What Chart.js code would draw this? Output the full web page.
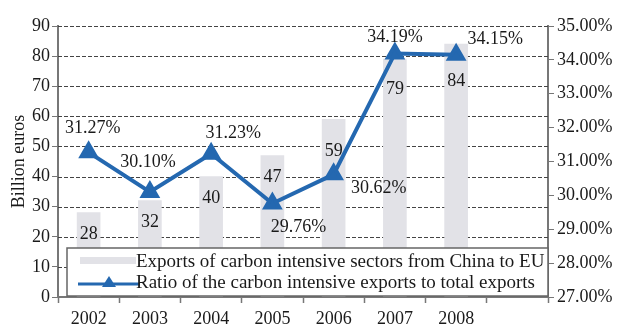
<!DOCTYPE html>
<html>
<head>
<meta charset="utf-8">
<script src="https://cdn.jsdelivr.net/npm/chart.js@4.4.0/dist/chart.umd.min.js"></script>
<style>
  html, body { margin: 0; padding: 0; background: #fff; }
  #wrap { width: 621px; height: 325px; }
</style>
</head>
<body>
<div id="wrap"><canvas id="myChart" width="621" height="325"></canvas></div>
<script>
// data
const years = ['2002', '2003', '2004', '2005', '2006', '2007', '2008', ''];
const exportsEU = [28, 32, 40, 47, 59, 79, 84, null]; // billion euros
const ratio = [31.27, 30.10, 31.23, 29.76, 30.62, 34.19, 34.15, null]; // percent
const leftTicks = [0, 10, 20, 30, 40, 50, 60, 70, 80, 90];
const rightTicks = [27, 28, 29, 30, 31, 32, 33, 34, 35];

const serif = '"Liberation Serif", "DejaVu Serif", serif';
const blue = '#2468b0';
const barGrey = '#e2e2e7';
const axisGrey = '#777';
const txt = '#1a1a1a';

// where each percentage label sits relative to its point (dx, dy)
const pctOffsets = [[4, -24], [-2, -30], [22, -20], [26, 24], [45, 14], [0, -16], [39, -16]];

const labelsPlugin = {
    id: 'labelsPlugin',
    beforeDatasetsDraw(chart) {
        // dashed horizontal grid, one line per left tick
        const ctx = chart.ctx;
        const a = chart.chartArea;
        const ys = chart.scales.y;
        ctx.save();
        ctx.strokeStyle = '#444';
        ctx.lineWidth = 1;
        ctx.setLineDash([4, 2]);
        leftTicks.forEach(v => {
            if (v === 0) return;
            const y = Math.round(ys.getPixelForValue(v)) + 0.5;
            ctx.beginPath();
            ctx.moveTo(a.left, y);
            ctx.lineTo(a.right, y);
            ctx.stroke();
        });
        ctx.restore();
    },
    afterDatasetsDraw(chart) {
        const ctx = chart.ctx;
        ctx.save();
        ctx.font = '18px ' + serif;
        ctx.fillStyle = txt;
        ctx.textAlign = 'center';
        ctx.textBaseline = 'middle';
        // values on the bars
        const bars = chart.getDatasetMeta(0).data;
        bars.forEach((b, i) => {
            if (exportsEU[i] == null) return;
            let off = 22;
            if (i === 4) off = 32;
            if (i === 5) off = 30;
            if (i === 6) off = 37;
            ctx.fillText(String(exportsEU[i]), b.x, b.y + off);
        });
        // percentages near the line
        const pts = chart.getDatasetMeta(1).data;
        pts.forEach((p, i) => {
            if (ratio[i] == null) return;
            const o = pctOffsets[i];
            ctx.fillText(ratio[i].toFixed(2) + '%', p.x + o[0], p.y + o[1]);
        });
        ctx.restore();
    },
    afterDraw(chart) {
        // legend box sitting inside the plot
        const ctx = chart.ctx;
        const a = chart.chartArea;
        const x0 = a.left + 9, y0 = 248, x1 = a.right, y1 = a.bottom - 1;
        ctx.save();
        ctx.fillStyle = '#fff';
        ctx.fillRect(x0, y0, x1 - x0, y1 - y0);
        ctx.strokeStyle = '#666';
        ctx.lineWidth = 1.5;
        ctx.strokeRect(x0, y0, x1 - x0, y1 - y0);

        ctx.fillStyle = barGrey;
        ctx.fillRect(x0 + 13, 257, 56, 7);

        ctx.strokeStyle = blue;
        ctx.lineWidth = 3;
        ctx.beginPath();
        ctx.moveTo(x0 + 11, 284);
        ctx.lineTo(x0 + 73, 284);
        ctx.stroke();
        ctx.fillStyle = blue;
        ctx.beginPath();
        ctx.moveTo(x0 + 42, 276);
        ctx.lineTo(x0 + 49, 287);
        ctx.lineTo(x0 + 35, 287);
        ctx.closePath();
        ctx.fill();

        ctx.fillStyle = txt;
        ctx.font = '19px ' + serif;
        ctx.textAlign = 'left';
        ctx.textBaseline = 'middle';
        ctx.fillText(chart.data.datasets[0].label, x0 + 69, 262);
        ctx.fillText(chart.data.datasets[1].label, x0 + 69, 283);
        ctx.restore();
    }
};

const data = {
    labels: years,
    datasets: [{
            type: 'bar',
            label: 'Exports of carbon intensive sectors from China to EU',
            data: exportsEU,
            backgroundColor: barGrey,
            barThickness: 23,
            yAxisID: 'y',
            order: 2
        },
        {
            type: 'line',
            label: 'Ratio of the carbon intensive exports to total exports',
            data: ratio,
            borderColor: blue,
            backgroundColor: blue,
            borderWidth: 4,
            pointStyle: 'triangle',
            pointRadius: 8,
            pointHoverRadius: 8,
            tension: 0,
            yAxisID: 'y1',
            order: 1
        }
    ]
};

const config = {
    data: data,
    options: {
        responsive: false,
        animation: false,
        events: [],
        layout: { padding: { top: 26, left: 0, right: 0, bottom: 0 } },
        plugins: {
            legend: { display: false },
            tooltip: { enabled: false }
        },
        scales: {
            x: {
                offset: true,
                afterFit: s => { s.height = 28; },
                grid: {
                    offset: true,
                    drawOnChartArea: false,
                    drawTicks: true,
                    tickLength: 6,
                    tickColor: axisGrey,
                    tickWidth: 1.5
                },
                border: { color: axisGrey, width: 2 },
                ticks: {
                    color: txt,
                    font: { family: serif, size: 18 },
                    padding: 5,
                    maxRotation: 0
                }
            },
            y: {
                position: 'left',
                min: 0,
                max: 90,
                afterFit: s => { s.width = 58; },
                afterBuildTicks: s => { s.ticks = leftTicks.map(v => ({ value: v })); },
                grid: {
                    drawOnChartArea: false,
                    tickLength: 6,
                    tickColor: axisGrey,
                    drawTicks: true
                },
                border: { color: axisGrey, width: 2 },
                ticks: {
                    color: txt,
                    font: { family: serif, size: 18 },
                    padding: 2
                },
                title: {
                    display: true,
                    text: 'Billion euros',
                    color: txt,
                    font: { family: serif, size: 18 },
                    padding: { top: 8, bottom: 0 }
                }
            },
            y1: {
                position: 'right',
                min: 27,
                max: 35,
                afterFit: s => { s.width = 73; },
                afterBuildTicks: s => { s.ticks = rightTicks.map(v => ({ value: v })); },
                grid: {
                    drawOnChartArea: false,
                    tickLength: 6,
                    tickColor: axisGrey
                },
                border: { color: axisGrey, width: 2 },
                ticks: {
                    color: txt,
                    font: { family: serif, size: 18 },
                    padding: 3,
                    callback: v => v.toFixed(2) + '%'
                }
            }
        }
    },
    plugins: [labelsPlugin]
};

const myChart = new Chart(document.getElementById('myChart'), config);
</script>
</body>
</html>
